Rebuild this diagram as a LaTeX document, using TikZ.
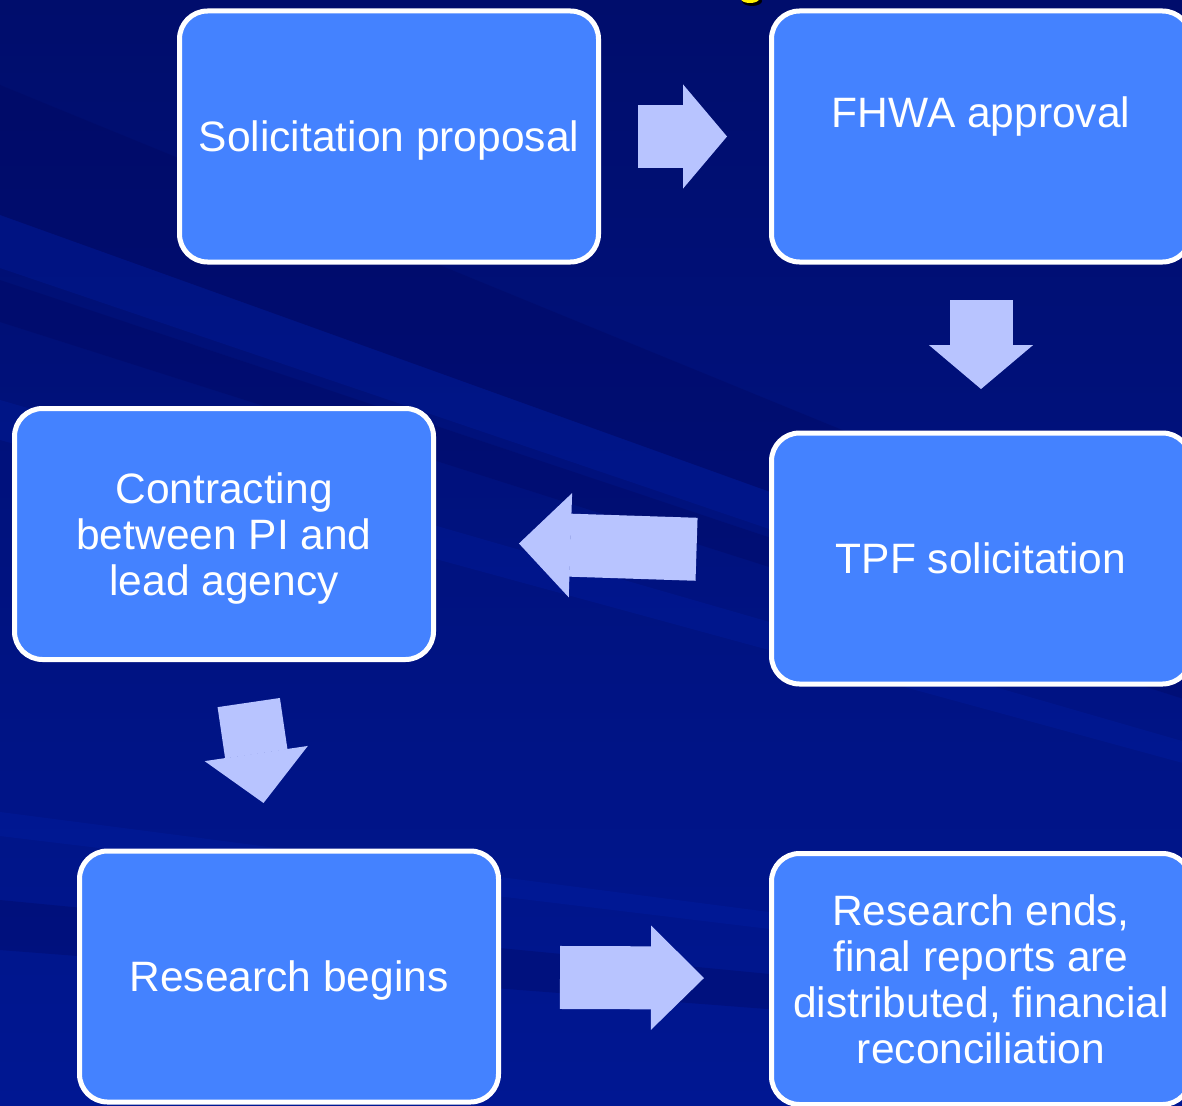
\documentclass[tikz,border=0pt]{standalone}
\usepackage{fontspec}
\setmainfont{Liberation Sans}
\usetikzlibrary{arrows.meta}

\definecolor{bgtop}{HTML}{000D6C}
\definecolor{bgbottom}{HTML}{001792}
\definecolor{boxblue}{HTML}{4482FF}
\definecolor{arrowblue}{HTML}{B8C4FF}
\definecolor{streaklight}{HTML}{0024B4}
\definecolor{streakdark}{HTML}{00065C}
\definecolor{titleyellow}{HTML}{FFF200}

\begin{document}
\begin{tikzpicture}[x=1pt, y=-1pt,
  stepbox/.style={draw=white, line width=5pt, fill=boxblue, rounded corners=28pt,
    minimum width=419pt, minimum height=251pt, inner sep=0pt, align=center,
    text=white, text depth=0pt, font=\fontsize{42.5}{46}\selectfont},
  flowarrow/.style={draw=arrowblue, line width=63pt,
    -{Triangle[length=#1 0 0, width=104pt 0 0, line width=1.5pt 0 0]}},
  flowarrow/.default=44pt,
  streakup/.style={fill=streaklight, fill opacity=0.22},
  streakdown/.style={fill=streakdark, fill opacity=0.3}]

  \useasboundingbox (0,0) rectangle (1182,1105);

  % background with streaks
  \begin{scope}
    \clip (0,0) rectangle (1182,1105);
    \shade[top color=bgtop, bottom color=bgbottom] (0,0) rectangle (1182,1105);
    \fill[streakdown] (2600,1150) -- (0,85) -- (0,215) -- cycle;
    \fill[streakup] (2600,1150) -- (0,215) -- (0,268) -- cycle;
    \fill[streakdown] (2600,1150) -- (0,280) -- (0,322) -- cycle;
    \fill[streakup] (2600,1150) -- (0,400) -- (0,440) -- cycle;
    \fill[streakup] (2600,1150) -- (0,812) -- (0,836) -- cycle;
    \fill[streakdown] (2600,1150) -- (0,900) -- (0,950) -- cycle;
    \fill[black] (752,1) ellipse [x radius=10, y radius=5];
    \fill[titleyellow] (750,-1) ellipse [x radius=9, y radius=4];
  \end{scope}

  \node[stepbox] (sol) at (389,136.5) {Solicitation proposal};
  \node[stepbox, text depth=48pt] (fhwa) at (981,136.5) {FHWA approval};
  \node[stepbox] (tpf) at (981,558.5) {TPF solicitation};
  \node[stepbox] (cont) at (224,534) {Contracting\\ between PI and\\ lead agency};
  \node[stepbox] (res) at (289,976.5) {Research begins};
  \node[stepbox] (ends) at (981,979) {Research ends,\\ final reports are\\ distributed, financial\\ reconciliation};

  \draw[flowarrow, shorten <=37pt, shorten >=42pt] (sol) -- (fhwa);
  \draw[flowarrow, shorten <=35.5pt, shorten >=41.5pt] (fhwa) -- (tpf);
  \draw[flowarrow=51.5pt, shorten <=72.5pt, shorten >=83pt] (tpf) -- (cont);
  \draw[flowarrow=50pt, shorten <=41pt, shorten >=46pt] (cont) -- (res);
  \draw[flowarrow=53pt, shorten <=59pt, shorten >=65pt] (res) -- (ends);

\end{tikzpicture}
\end{document}
